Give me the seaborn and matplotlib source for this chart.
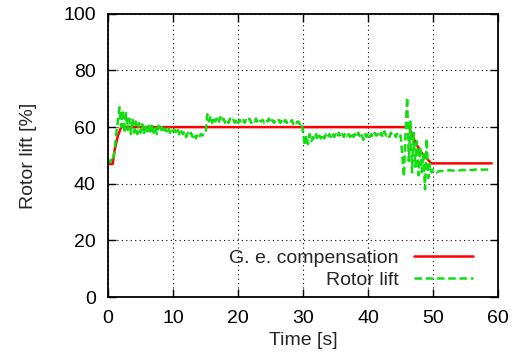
import numpy as np
import pandas as pd
import matplotlib
matplotlib.use("Agg")
import matplotlib.pyplot as plt
import seaborn as sns

# ======================
# DATA
# ======================
# G. e. compensation (setpoint, %)
comp_time = [0, 0.7, 1.0, 1.5, 2.0, 46.3, 46.6, 47.0, 47.4, 47.8, 48.2, 48.6, 49.0, 49.4, 49.7, 59]
comp_value = [47, 47, 52, 57, 60, 60, 58, 56, 54, 52.5, 51, 50, 49, 48, 47.2, 47.2]

# Rotor lift (measured, %): 0-49.75 s every 0.25 s, 50-59 s every 0.5 s
lift_fine = [48.5, 47.5, 48.5, 48, 52, 58, 62, 67,
             60, 66, 58, 65, 59, 63, 57.5, 63,
             58, 62, 57.5, 61.5, 58, 61, 57.5, 61,
             58.5, 60.5, 57.5, 61, 58, 60, 57.5, 60.5,
             58.5, 60, 58, 59.5, 58.5, 60, 58, 59.5,
             58.5, 59, 57.5, 59, 57, 58.5, 57.5, 58.5,
             56.5, 58, 57, 58, 56.5, 57.5, 56, 57.5,
             56.5, 57.5, 57, 58, 58, 64.5, 62, 64,
             61.5, 63.5, 62, 63, 61.5, 63.5, 62, 63,
             61.5, 62.5, 61.5, 63, 62, 62.5, 61.5, 63,
             61.5, 62.5, 62, 63, 61.5, 62.5, 62, 63,
             61.5, 62.5, 62, 63, 61.5, 62.5, 62, 62.5,
             61.5, 62.5, 62, 63, 61.5, 62.5, 61.5, 62.5,
             62, 62.5, 61.5, 62.5, 61.5, 62.5, 61.5, 62,
             61.5, 62.5, 61, 62, 61.5, 62, 61, 61.5,
             58, 53.5, 57, 54, 57.5, 55, 56.5, 55.5,
             57.5, 55.5, 57, 56, 57.5, 56, 57.5, 56.5,
             57.5, 56.5, 58, 56.5, 57.5, 56.5, 58, 56.5,
             57.5, 56.5, 58, 57, 57.5, 56.5, 58, 56.5,
             57.5, 56.5, 58, 56.5, 57.5, 55.5, 57.5, 56.5,
             58, 56.5, 57.5, 56.5, 58, 57, 57.5, 56.5,
             58, 56.5, 58.5, 57, 57.5, 56.5, 58, 57,
             57.5, 56.5, 58, 57,
             57, 50, 42.5, 58, 70.5, 48, 62, 44,
             58, 46, 55, 43, 53, 44, 51, 38,
             56, 42, 47, 44]
lift_coarse = [45, 44, 44.5, 44.5, 44.5, 44.8, 44.6, 44.8, 44.7, 44.9,
               44.8, 45, 44.8, 45, 44.9, 45, 45, 45, 45]

lift_time = np.concatenate([np.arange(0, 50, 0.25), np.arange(50, 59.5, 0.5)])
lift_value = lift_fine + lift_coarse

comp = pd.DataFrame({'t': comp_time, 'v': comp_value})
lift = pd.DataFrame({'t': lift_time, 'v': lift_value})

# ======================
# PLOT
# ======================
sns.set_style("ticks")
plt.rcParams['font.family'] = ['Liberation Sans', 'DejaVu Sans']

fig = plt.figure(figsize=(5.2, 3.64), dpi=100)
ax = fig.add_axes([0.208, 0.184, 0.750, 0.778])

sns.lineplot(data=comp, x='t', y='v', ax=ax, color='#ff0000', lw=1.8,
             label='G. e. compensation', estimator=None, sort=False)
sns.lineplot(data=lift, x='t', y='v', ax=ax, color='#11dd11', lw=1.8,
             linestyle=(0, (3, 1.5)), label='Rotor lift', estimator=None, sort=False)

ax.set_xlim(0, 60)
ax.set_ylim(0, 100)
ax.set_xticks(range(0, 61, 10))
ax.set_yticks(range(0, 101, 20))
ax.grid(True, color='black', linestyle=(0, (1, 3)), linewidth=0.8)
ax.tick_params(direction='in', length=6, width=1, top=True, right=True,
               labelsize=14, pad=9, colors='black')
for s in ax.spines.values():
    s.set_linewidth(1.3)
    s.set_color('black')
ax.set_xlabel('Time [s]', fontsize=14, labelpad=4)
ax.set_ylabel('Rotor lift [%]', fontsize=14, labelpad=19)

ax.legend(loc='lower right', frameon=False, fontsize=14, markerfirst=False,
          handlelength=3.0, handletextpad=0.8, labelspacing=0.25,
          borderaxespad=0.0, bbox_to_anchor=(0.955, 0.0))

fig.savefig('out.png', dpi=100)
